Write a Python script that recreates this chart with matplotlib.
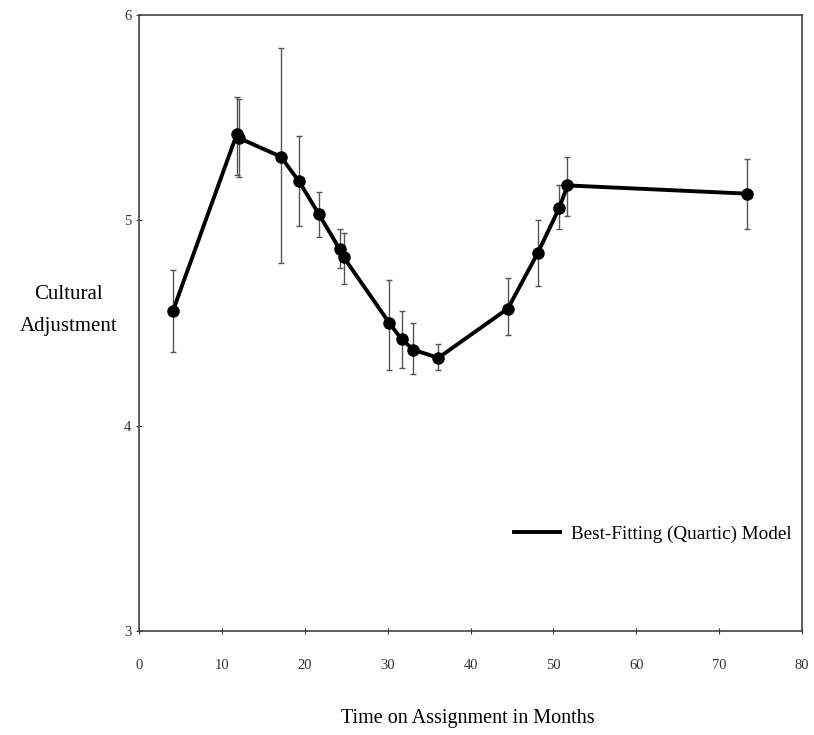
import matplotlib.pyplot as plt
import numpy as np

# months on assignment, mean adjustment, error bar ends
months = [4.1, 11.8, 12.1, 17.1, 19.3, 21.7, 24.2, 24.7, 30.2, 31.7, 33.1, 36.1, 44.5, 48.1, 50.7, 51.7, 73.3]
adjust = [4.56, 5.42, 5.40, 5.31, 5.19, 5.03, 4.86, 4.82, 4.50, 4.42, 4.37, 4.33, 4.57, 4.84, 5.06, 5.17, 5.13]
upper = [4.76, 5.60, 5.59, 5.84, 5.41, 5.14, 4.96, 4.94, 4.71, 4.56, 4.50, 4.40, 4.72, 5.00, 5.17, 5.31, 5.30]
lower = [4.36, 5.22, 5.21, 4.79, 4.97, 4.92, 4.77, 4.69, 4.27, 4.28, 4.25, 4.27, 4.44, 4.68, 4.96, 5.02, 4.96]

plt.rcParams['font.family'] = ['Liberation Serif', 'DejaVu Serif']

fig = plt.figure(figsize=(8.14, 7.35), dpi=100)
ax = fig.add_axes([0.1708, 0.1415, 0.8145, 0.8381])

x = np.array(months)
y = np.array(adjust)
err = [y - np.array(lower), np.array(upper) - y]

ax.errorbar(x, y, yerr=err, fmt='none', ecolor='#555555', elinewidth=1.0,
            capsize=2.5, capthick=1.0, zorder=2)
ax.plot(x, y, color='black', linewidth=2.8, marker='o', markersize=8,
        zorder=3, label='Best-Fitting (Quartic) Model')

ax.set_xlim(0, 80)
ax.set_ylim(3, 6)
ax.set_xticks(range(0, 81, 10))
ax.set_yticks([3, 4, 5, 6])
ax.tick_params(direction='inout', length=4, width=0.8, labelsize=10.5, colors='#333333')
ax.tick_params(axis='x', pad=18)
for s in ax.spines.values():
    s.set_linewidth(1.2)
    s.set_color('#444444')

ax.set_ylabel('Cultural\nAdjustment', rotation=0, fontsize=15, linespacing=1.9,
              va='center', ha='center')
ax.yaxis.set_label_coords(-0.106, 0.52)
ax.set_xlabel('Time on Assignment in Months', fontsize=14.5, va='center')
ax.xaxis.set_label_coords(0.496, -0.142)

ax.legend(handles=[plt.Line2D([], [], color='black', linewidth=2.8)],
          labels=['Best-Fitting (Quartic) Model'], loc='lower right',
          bbox_to_anchor=(1.011, 0.115), frameon=False, fontsize=13.8,
          handlelength=2.4, handletextpad=0.6)

fig.savefig('out.png', dpi=100)
